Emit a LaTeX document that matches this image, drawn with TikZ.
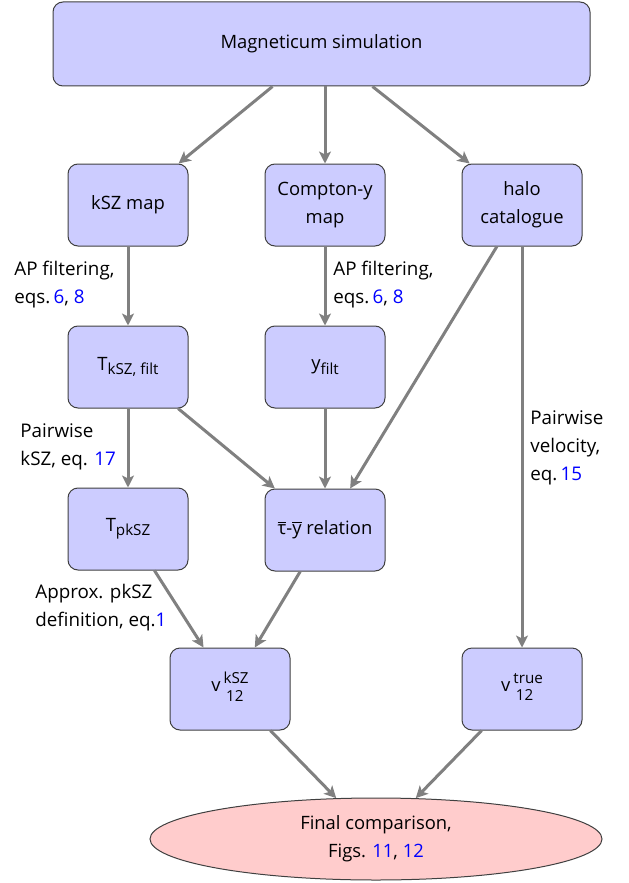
\documentclass[tikz,border=0pt]{standalone}
\usepackage{fontspec}
\setmainfont{Open Sans}
\usetikzlibrary{arrows.meta,shapes.geometric}

% text sub- and superscripts a little larger than math ones
\newcommand{\subtxt}[1]{\raisebox{-0.45ex}{\fontsize{7.6}{8}\selectfont #1}}
\newcommand{\stacktxt}[2]{\,\raisebox{-0.2ex}{\fontsize{7.6}{7.6}\selectfont
		\begin{tabular}{@{}l@{}}#1\\[0.8pt]\,#2\end{tabular}}}

\begin{document}
\begin{tikzpicture}[x=0.5pt,y=-0.5pt]
		\tikzset{vertex/.style = {rectangle, rounded corners=5pt, draw=black!75, line width=0.5pt, fill=blue!20,
				minimum width=60pt, minimum height=41pt, align=center, inner sep=2pt,
				font=\fontsize{9.2}{14}\selectfont}}
		\tikzset{final/.style = {ellipse, draw=black!75, line width=0.5pt, fill=red!20,
				minimum width=226pt, minimum height=41pt, align=center, inner sep=1pt,
				font=\fontsize{9.2}{14}\selectfont}}
		\tikzset{edge/.style = {draw=gray, line width=1.5pt, -{Stealth[length=6pt,width=6pt,inset=1.5pt]}}}
		\tikzset{note/.style = {anchor=west, align=left, inner sep=0pt, font=\fontsize{9.4}{14}\selectfont}}
		\useasboundingbox (0,0) rectangle (628,883);
		
		\node[vertex, minimum width=268.5pt, minimum height=42pt] (sim) at ( 321.5,   44) {Magneticum simulation};
		\node[vertex]  (kszmap)  at ( 128,  205) {kSZ map};
		\node[vertex]  (ymap)    at ( 325,  205) {Compton-y\\map};
		\node[vertex]  (halo)    at ( 522,  205) {halo\\catalogue};
		\node[vertex]  (tfilt)   at ( 128,  367) {T\subtxt{kSZ, filt}};
		\node[vertex]  (yfilt)   at ( 325,  367) {y\subtxt{filt}};
		\node[vertex]  (tpksz)   at ( 128,  529) {T\subtxt{pkSZ}};
		\node[vertex]  (tauy)    at ( 325,  530) {$\overline{\hbox{τ}}$-$\overline{\hbox{y}}$ relation};
		\node[vertex]  (vksz)    at ( 230,  689) {v\stacktxt{kSZ}{12}};
		\node[vertex]  (vtrue)   at ( 522,  689) {v\stacktxt{true}{12}};
		\node[final]   (comp)    at ( 376,  839) {Final comparison,\\Figs. \textcolor{blue}{11}, \textcolor{blue}{12}};
		
		\node[note] (apksz)  at (  14,  285) {AP filtering,\\eqs.\,\textcolor{blue}{6}, \textcolor{blue}{8}};
		\node[note] (apy)    at ( 333,  285) {AP filtering,\\eqs.\,\textcolor{blue}{6}, \textcolor{blue}{8}};
		\node[note] (pwksz)  at (  20,  447) {Pairwise\\kSZ, eq. \textcolor{blue}{17}};
		\node[note] (pwvel)  at ( 530,  448) {Pairwise\\velocity,\\eq.\,\textcolor{blue}{15}};
		\node[note] (approx) at (  35,  608) {Approx. pkSZ\\definition, eq.\textcolor{blue}{1}};
		
		\draw[edge] ([xshift=-24.5pt]sim.south) to (kszmap);
		\draw[edge] (sim.south -| ymap) to (ymap);
		\draw[edge] ([xshift=25.5pt]sim.south) to (halo);
		\draw[edge] (kszmap) to (tfilt);
		\draw[edge] (ymap) to (yfilt);
		\draw[edge] (halo) to (tauy);
		\draw[edge] (halo) to (vtrue);
		\draw[edge] (tfilt) to (tpksz);
		\draw[edge] (tfilt) to (tauy);
		\draw[edge] (yfilt) to (tauy);
		\draw[edge] (tpksz) to (vksz);
		\draw[edge] (tauy) to (vksz);
		\draw[edge] (vksz) to (comp);
		\draw[edge] (vtrue) to (comp);
		\end{tikzpicture}
\end{document}
